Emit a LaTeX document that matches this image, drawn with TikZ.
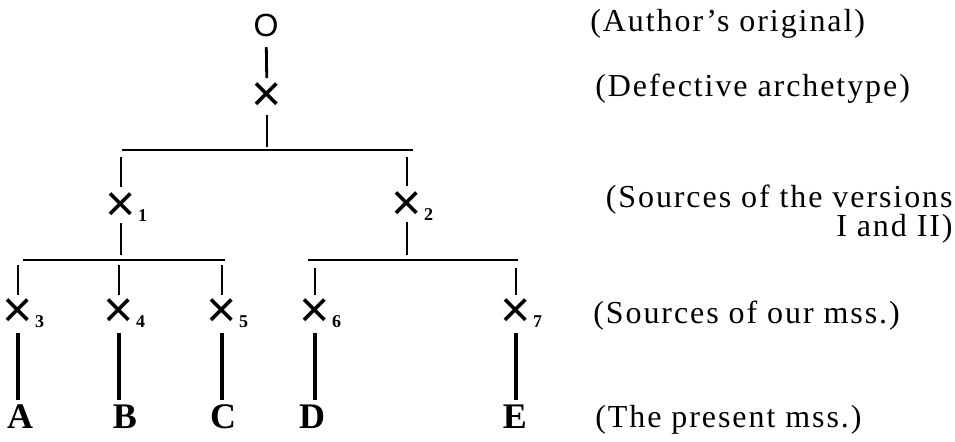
\documentclass[tikz,border=0pt]{standalone}
\usepackage{fontspec}
\setmainfont{Liberation Serif}
\newfontfamily\labfont{Liberation Serif}[LetterSpace=6]
\newfontfamily\symfont{Liberation Sans}
\newcommand\msx[1]{{\symfont\fontsize{26}{26}\selectfont ×}\rlap{\kern1pt\fontsize{9}{9}\selectfont\bfseries #1}}
\AtBeginDocument{\lineskiplimit=-20pt\relax}
\begin{document}
\begin{tikzpicture}[x=0.5pt,y=-0.5pt,
  sym/.style={inner sep=0pt, font=\symfont\fontsize{16}{16}\selectfont},
  xnode/.style={inner sep=0pt},
  ms/.style={inner sep=0pt, font=\bfseries\fontsize{18}{18}\selectfont},
  lab/.style={inner sep=0pt, anchor=base west, font=\labfont\fontsize{16}{14.5}\selectfont},
  edge/.style={line width=1.4pt},
  bar/.style={line width=1pt},
  msedge/.style={line width=1.8pt},
  thickedge/.style={line width=2.4pt}]
\useasboundingbox[fill=white] (0,0) rectangle (955,441);
% nodes
\node[sym] (o) at (266,25) {O};
\node[xnode] (x0) at (267,97) {\msx{}};
\node[xnode] (x1) at (121,207) {\msx{1}};
\node[xnode] (x2) at (407,206) {\msx{2}};
\node[xnode] (x3) at (18,313) {\msx{3}};
\node[xnode] (x4) at (119,313) {\msx{4}};
\node[xnode] (x5) at (222,313) {\msx{5}};
\node[xnode] (x6) at (315,313) {\msx{6}};
\node[xnode] (x7) at (516,313) {\msx{7}};
\node[ms] (A) at (20,417) {A};
\node[ms] (B) at (125,417) {B};
\node[ms] (C) at (223,417) {C};
\node[ms] (D) at (312,417) {D};
\node[ms] (E) at (515,417) {E};
% labels
\node[lab] (l0) at (590,31) {(Author’s original)};
\node[lab] (l1) at (595,96) {(Defective archetype)};
\node[lab, anchor=north east, align=right] (l2) at (953,185) {(Sources of the versions\\I and II)};
\node[lab] (l3) at (593,323) {(Sources of our mss.)};
\node[lab] (l4) at (595,427) {(The present mss.)};
% bars
\coordinate (b1l) at (122,150);
\coordinate (b1r) at (413,150);
\coordinate (b2l) at (23,260);
\coordinate (b2r) at (225,260);
\coordinate (b3l) at (308,260);
\coordinate (b3r) at (518,260);
\draw[bar] (b1l) -- (b1r);
\draw[bar] (b2l) -- (b2r);
\draw[bar] (b3l) -- (b3r);
% edges
\draw[edge, shorten <=11pt, shorten >=9.5pt] (o.center) -- (x0.center);
\draw[edge, shorten <=9pt, shorten >=1.5pt] (x0.center) -- (x0 |- b1l);
\foreach \n in {x1,x2}
  \draw[edge, shorten <=3.5pt, shorten >=10pt] (\n |- b1l) -- (\n.center);
\draw[edge, shorten <=8pt, shorten >=2.5pt] (x1.center) -- (x1 |- b2l);
\draw[edge, shorten <=8pt, shorten >=2.5pt] (x2.center) -- (x2 |- b3l);
\foreach \n in {x3,x4,x5}
  \draw[edge, shorten <=2.5pt, shorten >=9pt] (\n |- b2l) -- (\n.center);
\foreach \n in {x6,x7}
  \draw[edge, shorten <=4pt, shorten >=9pt] (\n |- b3l) -- (\n.center);
\draw[msedge, shorten <=10pt, shorten >=8.5pt] (x3.center) -- (x3 |- A.center);
\draw[msedge, shorten <=10pt, shorten >=8.5pt] (x4.center) -- (x4 |- B.center);
\draw[msedge, shorten <=10pt, shorten >=8.5pt] (x5.center) -- (x5 |- C.center);
\draw[msedge, shorten <=10pt, shorten >=8.5pt] (x6.center) -- (x6 |- D.center);
\draw[thickedge, shorten <=10pt, shorten >=8.5pt] (x7.center) -- (x7 |- E.center);
\end{tikzpicture}
\end{document}
